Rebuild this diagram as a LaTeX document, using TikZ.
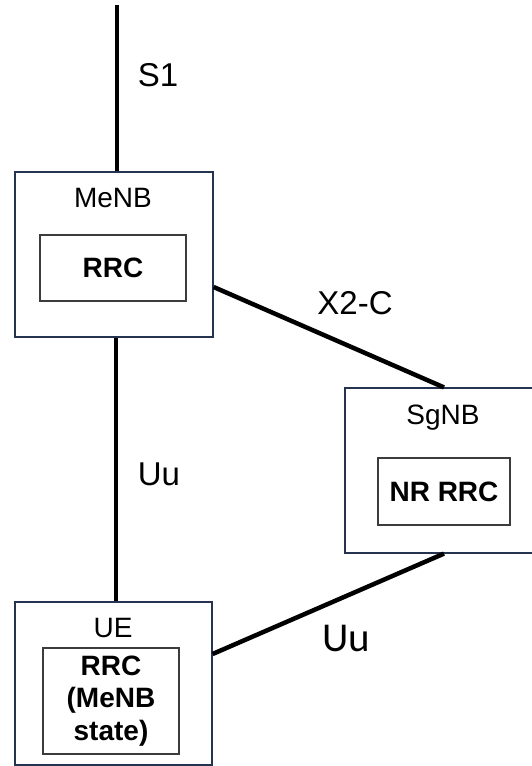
\documentclass[tikz,border=0pt]{standalone}
\usepackage{fontspec}
\setmainfont{Liberation Sans}
\newfontfamily\uufont{Carlito}
\definecolor{boxblue}{RGB}{36,52,80}
\definecolor{layergray}{RGB}{60,60,60}
\begin{document}
\begin{tikzpicture}[x=1pt,y=-1pt]
\tikzstyle{entity}=[rectangle, minimum width=198pt, minimum height=165pt, inner sep=0pt, draw=boxblue, line width=1.2pt]
\tikzstyle{rrcbox}=[rectangle, inner sep=0pt, draw=layergray, line width=1.2pt, align=center, font=\bfseries\fontsize{28}{32.5}\selectfont]
\tikzstyle{entlabel}=[anchor=base, inner sep=0pt, font=\fontsize{28}{32}\selectfont]
\tikzstyle{iface}=[anchor=base, inner sep=0pt, font=\fontsize{33}{38}\selectfont]
\tikzstyle{link}=[line width=4.5pt]

\clip (0,0) rectangle (532,766);

% MeNB
\node[entity] (menb) at (114,254.5) {};
\node[entlabel] (menbname) at (113,207) {MeNB};
\node[rrcbox, minimum width=146pt, minimum height=66pt] (menbrrc) at (113,268) {RRC};

% SgNB (runs past the right edge)
\node[entity] (sgnb) at (444,470.5) {};
\node[entlabel] (sgnbname) at (443,424) {SgNB};
\node[rrcbox, minimum width=132pt, minimum height=67pt] (sgnbrrc) at (444,491.5) {NR RRC};

% UE
\node[entity, minimum width=197pt, minimum height=163pt] (ue) at (113.5,683.5) {};
\node[entlabel] (uename) at (113,637) {UE};
\node[rrcbox, minimum width=136pt, minimum height=106pt] (uerrc) at (111,701) {RRC\\(MeNB\\state)};

% core side of S1
\coordinate (core) at (117,5);

% Connect nodes
\draw[link] (core) -- (core |- menb.north);
\draw[link] ([xshift=2pt]menb.south) -- ([xshift=2pt]menb.south |- ue.north);
\draw[link] ([yshift=-32.5pt]menb.east) -- (sgnb.north);
\draw[link] (sgnb.south) -- ([yshift=29.5pt]ue.east);

% interface labels
\node[iface] (s1) at (158,86) {S1};
\node[iface] (x2c) at (355,314) {X2-C};
\node[iface] (uu1) at (159,485) {Uu};
\node[iface, font=\uufont\fontsize{41}{46}\selectfont] (uu2) at (346,651) {Uu};
\end{tikzpicture}
\end{document}
